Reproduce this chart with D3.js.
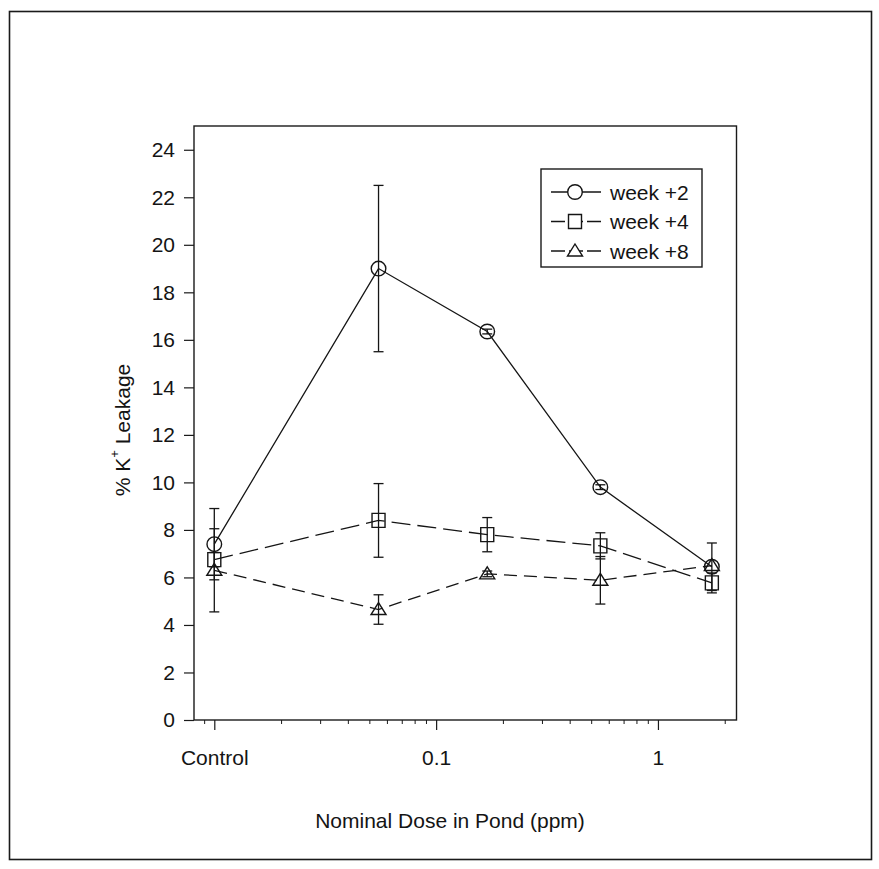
<!DOCTYPE html>
<html>
<head>
<meta charset="utf-8">
<script src="https://cdn.jsdelivr.net/npm/d3@7"></script>
<style>
  body { margin: 0; background: #fff; }
  text { font-family: "Liberation Sans", Arial, sans-serif; fill: #141414; }
</style>
</head>
<body>
<div id="chart"></div>
<script>
// doses in ppm, control drawn at 0.01
var doses = [0.01, 0.055, 0.17, 0.55, 1.75];
var xTickValues = [0.01, 0.1, 1];
var xTickLabels = ["Control", "0.1", "1"];
var xMinorTicks = [0.009, 0.02, 0.03, 0.04, 0.05, 0.06, 0.07, 0.08, 0.09,
                   0.2, 0.3, 0.4, 0.5, 0.6, 0.7, 0.8, 0.9, 2];
var yTickValues = [0, 2, 4, 6, 8, 10, 12, 14, 16, 18, 20, 22, 24];

var seriesNames = ["week +2", "week +4", "week +8"];
var week2 = [7.4, 19.0, 16.35, 9.8, 6.45];
var week2Err = [1.5, 3.5, 0.1, 0.1, 1.0];
var week4 = [6.75, 8.4, 7.8, 7.33, 5.77];
var week4Err = [0.3, 1.55, 0.72, 0.55, 0.42];
var week8 = [6.3, 4.65, 6.15, 5.88, 6.5];
var week8Err = [1.75, 0.62, 0.12, 1.0, 0];

var W = 879, H = 869;
var margin = {top: 126, right: 142.5, bottom: 149, left: 194},
    width = W - margin.left - margin.right,
    height = H - margin.top - margin.bottom;

var svg = d3.select("#chart")
    .append("svg")
      .attr("width", W)
      .attr("height", H);

// scanned page border
svg.append("rect")
    .attr("x", 9.5).attr("y", 11.5)
    .attr("width", 862).attr("height", 848)
    .attr("fill", "none")
    .attr("stroke", "#1a1a1a")
    .attr("stroke-width", 1.6);

var x = d3.scaleLog().domain([0.0081, 2.26]).range([0, width]),
    y = d3.scaleLinear().domain([0, 25]).range([height, 0]);

var g = svg.append("g")
    .attr("transform", "translate(" + margin.left + "," + margin.top + ")");

// frame
g.append("rect")
    .attr("width", width)
    .attr("height", height)
    .attr("fill", "none")
    .attr("stroke", "#1a1a1a")
    .attr("stroke-width", 1.4);

var yAxis = d3.axisLeft(y)
    .tickValues(yTickValues)
    .tickSize(10)
    .tickPadding(9)
    .tickFormat(d3.format("d"));

g.append("g")
    .attr("class", "axis axis--y")
    .call(yAxis)
    .call(function(a) {
      a.select(".domain").remove();
      a.selectAll("line").attr("stroke", "#1a1a1a").attr("stroke-width", 1.2);
      a.selectAll("text").attr("font-size", 21).attr("fill", "#141414");
    });

var xAxis = d3.axisBottom(x)
    .tickValues(xTickValues)
    .tickSize(10)
    .tickPadding(20)
    .tickFormat(function(d, i) { return xTickLabels[i]; });

g.append("g")
    .attr("class", "axis axis--x")
    .attr("transform", "translate(0," + height + ")")
    .call(xAxis)
    .call(function(a) {
      a.select(".domain").remove();
      a.selectAll("line").attr("stroke", "#1a1a1a").attr("stroke-width", 1.2);
      a.selectAll("text").attr("font-size", 21).attr("fill", "#141414");
    });

g.append("g")
    .attr("class", "axis axis--minor")
    .attr("transform", "translate(0," + height + ")")
    .call(d3.axisBottom(x).tickValues(xMinorTicks).tickSize(4).tickFormat(""))
    .call(function(a) {
      a.select(".domain").remove();
      a.selectAll("line").attr("stroke", "#1a1a1a").attr("stroke-width", 1);
    });

// axis titles
g.append("text")
    .attr("x", 450 - margin.left)
    .attr("y", 828 - margin.top)
    .attr("text-anchor", "middle")
    .attr("font-size", 21)
    .text("Nominal Dose in Pond (ppm)");

var yTitle = g.append("text")
    .attr("transform", "translate(" + (122 - margin.left) + "," + (430 - margin.top) + ") rotate(-90)")
    .attr("text-anchor", "middle")
    .attr("dominant-baseline", "central")
    .attr("font-size", 21);
yTitle.append("tspan").text("% K");
yTitle.append("tspan").attr("font-size", 13).attr("dy", -8).text("+");
yTitle.append("tspan").attr("dy", 8).text(" Leakage");

var series = [
  {name: seriesNames[0], values: week2, err: week2Err, shape: "circle", dash: null},
  {name: seriesNames[1], values: week4, err: week4Err, shape: "square", dash: "19,7"},
  {name: seriesNames[2], values: week8, err: week8Err, shape: "triangle", dash: "13,7"}
];

function markerPath(shape) {
  if (shape === "circle") return d3.symbol().type(d3.symbolCircle).size(Math.PI * 7.3 * 7.3)();
  if (shape === "square") return "M-6.5,-7V7H6.5V-7Z";
  return "M0,-7L7.5,5H-7.5Z";
}

var line = d3.line()
    .x(function(d) { return x(d.dose); })
    .y(function(d) { return y(d.value); });

series.forEach(function(s) {
  var pts = doses.map(function(d, i) { return {dose: d, value: s.values[i], err: s.err[i]}; });

  g.append("path")
      .datum(pts)
      .attr("fill", "none")
      .attr("stroke", "#151515")
      .attr("stroke-width", 1.3)
      .attr("stroke-dasharray", s.dash)
      .attr("d", line);

  var eb = g.append("g").selectAll("g")
      .data(pts.filter(function(d) { return d.err > 0; }))
      .enter().append("g")
      .attr("stroke", "#151515")
      .attr("stroke-width", 1.3);
  eb.append("line")
      .attr("x1", function(d) { return x(d.dose); })
      .attr("x2", function(d) { return x(d.dose); })
      .attr("y1", function(d) { return y(d.value - d.err); })
      .attr("y2", function(d) { return y(d.value + d.err); });
  eb.append("line")
      .attr("x1", function(d) { return x(d.dose) - 5; })
      .attr("x2", function(d) { return x(d.dose) + 5; })
      .attr("y1", function(d) { return y(d.value + d.err); })
      .attr("y2", function(d) { return y(d.value + d.err); });
  eb.append("line")
      .attr("x1", function(d) { return x(d.dose) - 5; })
      .attr("x2", function(d) { return x(d.dose) + 5; })
      .attr("y1", function(d) { return y(d.value - d.err); })
      .attr("y2", function(d) { return y(d.value - d.err); });

  g.append("g").selectAll("path")
      .data(pts)
      .enter().append("path")
      .attr("transform", function(d) { return "translate(" + x(d.dose) + "," + y(d.value) + ")"; })
      .attr("d", markerPath(s.shape))
      .attr("fill", "none")
      .attr("stroke", "#151515")
      .attr("stroke-width", 1.4);
});

// legend
var legend = svg.append("g").attr("transform", "translate(541,169)");
legend.append("rect")
    .attr("width", 161)
    .attr("height", 98)
    .attr("fill", "#fff")
    .attr("stroke", "#1a1a1a")
    .attr("stroke-width", 1.4);

var li = legend.selectAll(".item")
    .data(series)
    .enter().append("g")
    .attr("class", "item")
    .attr("transform", function(d, i) { return "translate(0," + (23 + i * 29.5) + ")"; });
li.append("line")
    .attr("x1", 10).attr("x2", 60)
    .attr("stroke", "#151515")
    .attr("stroke-width", 1.3)
    .attr("stroke-dasharray", function(d) { return d.dash ? "14,4" : null; });
li.append("path")
    .attr("transform", "translate(34,0)")
    .attr("d", function(d) { return markerPath(d.shape); })
    .attr("fill", "#fff")
    .attr("stroke", "#151515")
    .attr("stroke-width", 1.4);
li.append("text")
    .attr("x", 69)
    .attr("dy", "0.36em")
    .attr("font-size", 21)
    .text(function(d) { return d.name; });
</script>
</body>
</html>
